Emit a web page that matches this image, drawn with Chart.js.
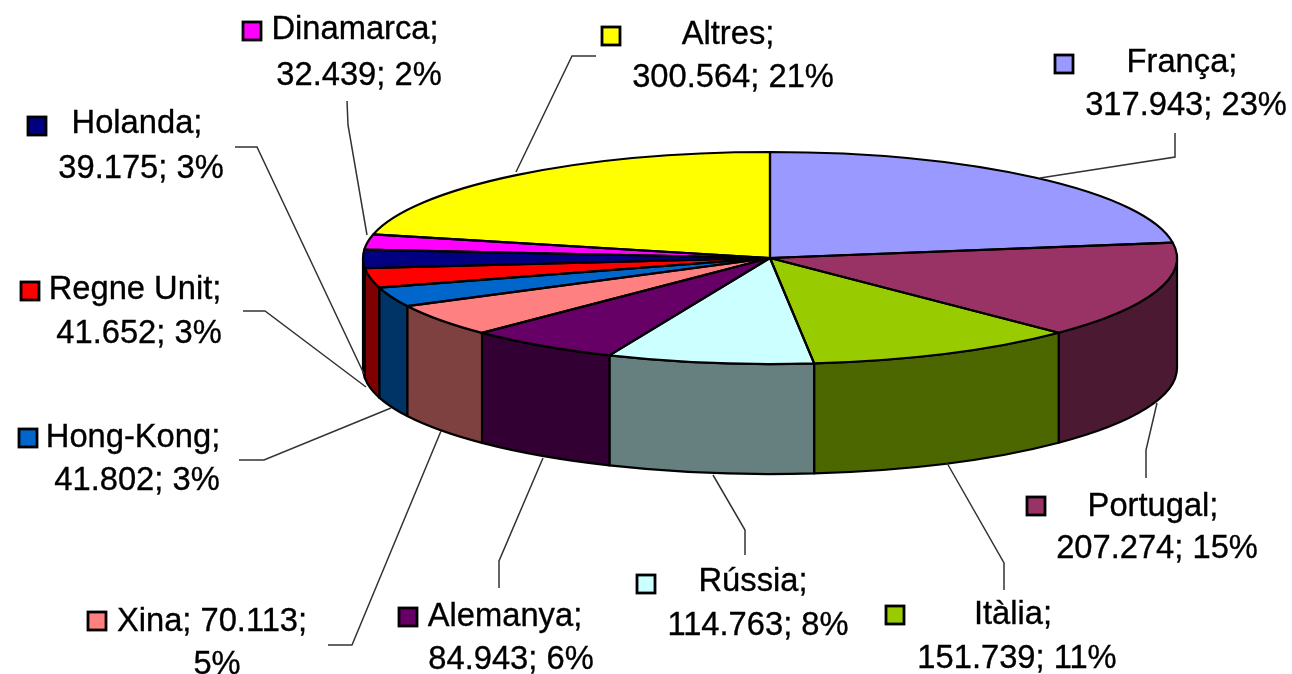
<!DOCTYPE html>
<html>
<head>
<meta charset="utf-8">
<script src="https://cdn.jsdelivr.net/npm/chart.js@4"></script>
<style>
html,body{margin:0;padding:0;background:#fff;overflow:hidden}
#wrap{width:1292px;height:674px;filter:blur(0.55px)}
canvas{display:block}
</style>
</head>
<body>
<div id="wrap"><canvas id="c" width="1292" height="674"></canvas></div>
<script>
const categories = ['França','Portugal','Itàlia','Rússia','Alemanya','Xina','Hong-Kong','Regne Unit','Holanda','Dinamarca','Altres'];
const values = [317.943,207.274,151.739,114.763,84.943,70.113,41.802,41.652,39.175,32.439,300.564];
const colors = ['#9999FF','#993366','#99CC00','#CCFFFF','#660066','#FF8080','#0066CC','#FF0000','#000080','#FF00FF','#FFFF00'];

// Annotation layout (one entry per category): key box, two text lines [centre x, baseline], leader polyline
const labelLayout = [
  {key:[1054,54], l1:[1182,72], l2:[1186,115], lead:[[1175,133],[1175,157],[1040,178]]},
  {key:[1026,496], l1:[1153,516], l2:[1157,558], lead:[[1146,478],[1146,450],[1157,403]]},
  {key:[885,605], l1:[1013,624], l2:[1017,668], lead:[[1004,590],[1004,563],[947,463]]},
  {key:[636,574], l1:[753,591], l2:[758,635], lead:[[745,555],[745,530],[713,475]]},
  {key:[398,607], l1:[505,626], l2:[511,669], lead:[[499,588],[499,561],[543,458]]},
  {key:[87,611], l1:[212,631], l2:[217,674], split:true, lead:[[328,645],[352,645],[441,431]]},
  {key:[18,428], l1:[133,447], l2:[137,490], lead:[[239,460],[264,460],[391,408]]},
  {key:[20,281], l1:[135,299], l2:[139,343], lead:[[243,311],[265,311],[366,387]]},
  {key:[27,116], l1:[137,133], l2:[141,178], lead:[[235,147],[257,147],[364,374]]},
  {key:[242,21], l1:[355,39], l2:[359,85], lead:[[347,101],[348,125],[367,235]]},
  {key:[601,26], l1:[728,44], l2:[733,87], lead:[[596,56],[572,56],[516,172]]}
];

const squash = 106/407, depth = 110, edge = 2.2;
const total = values.reduce((a,b)=>a+b,0);
const dark = h => {
  const n = parseInt(h.slice(1),16);
  return `rgb(${(n>>16&255)>>1},${(n>>8&255)>>1},${(n&255)>>1})`;
};

const pie3d = {
  id:'pie3d',
  beforeDatasetsDraw(chart){
    const ctx = chart.ctx, arcs = chart.getDatasetMeta(0).data;
    const {x,y,outerRadius:r} = arcs[0];
    const ry = r*squash;
    ctx.save();
    ctx.strokeStyle = '#000'; ctx.lineWidth = edge; ctx.lineJoin='round';
    arcs.forEach((a,i)=>{
      const s = Math.max(a.startAngle,0), e = Math.min(a.endAngle,Math.PI);
      if(e<=s) return;
      ctx.beginPath();
      ctx.ellipse(x,y,r,ry,0,s,e);
      ctx.ellipse(x,y+depth,r,ry,0,e,s,true);
      ctx.closePath();
      ctx.fillStyle = dark(colors[i]);
      ctx.fill(); ctx.stroke();
    });
    ctx.restore();
    // squash the library's own pie into the tilted top face
    ctx.save();
    ctx.translate(x,y); ctx.scale(1,squash); ctx.translate(-x,-y);
  },
  afterDatasetsDraw(chart){
    const ctx = chart.ctx, arcs = chart.getDatasetMeta(0).data;
    ctx.restore();
    const {x,y,outerRadius:r} = arcs[0];
    const ry = r*squash;
    ctx.save();
    ctx.strokeStyle='#000'; ctx.lineWidth=edge; ctx.lineJoin='round';
    arcs.forEach(a=>{
      ctx.beginPath();
      ctx.moveTo(x,y);
      ctx.ellipse(x,y,r,ry,0,a.startAngle,a.endAngle);
      ctx.closePath();
      ctx.stroke();
    });
    ctx.restore();
    // leaders, keys and labels
    ctx.save();
    labelLayout.forEach((l,i)=>{
      ctx.strokeStyle='#333'; ctx.lineWidth=1.5;
      ctx.beginPath();
      l.lead.forEach((p,j)=> j?ctx.lineTo(p[0],p[1]):ctx.moveTo(p[0],p[1]));
      ctx.stroke();
      ctx.fillStyle=colors[i]; ctx.strokeStyle='#000'; ctx.lineWidth=2.8;
      ctx.fillRect(l.key[0]+1,l.key[1]+1,18,18);
      ctx.strokeRect(l.key[0]+1,l.key[1]+1,18,18);
      const val = values[i].toFixed(3), pct = Math.round(values[i]/total*100)+'%';
      const t1 = l.split ? `${categories[i]}; ${val};` : `${categories[i]};`;
      const t2 = l.split ? pct : `${val}; ${pct}`;
      ctx.fillStyle='#000'; ctx.strokeStyle='#000'; ctx.lineWidth=0.35;
      ctx.font='32.7px "Liberation Sans", Arial, sans-serif';
      ctx.textAlign='center'; ctx.textBaseline='alphabetic';
      ctx.fillText(t1,l.l1[0],l.l1[1]); ctx.strokeText(t1,l.l1[0],l.l1[1]);
      ctx.fillText(t2,l.l2[0],l.l2[1]); ctx.strokeText(t2,l.l2[0],l.l2[1]);
    });
    ctx.restore();
  }
};

new Chart(document.getElementById('c'),{
  type:'pie',
  data:{labels:categories,datasets:[{data:values,backgroundColor:colors,borderWidth:0}]},
  options:{
    responsive:false,animation:false,radius:407,
    layout:{padding:{left:248,right:0,top:0,bottom:158}},
    plugins:{legend:{display:false},tooltip:{enabled:false}}
  },
  plugins:[pie3d]
});
</script>
</body>
</html>
